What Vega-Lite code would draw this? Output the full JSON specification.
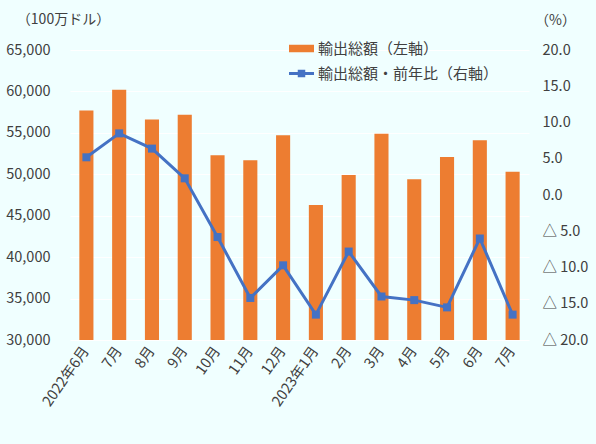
{
  "$schema": "https://vega.github.io/schema/vega-lite/v6.json",
  "width": 459,
  "height": 290,
  "autosize": {"type": "none"},
  "padding": {"left": 70, "top": 50, "right": 67, "bottom": 104},
  "background": "#F0FFFF",
  "config": {
    "font": "Noto Sans CJK JP",
    "view": {"stroke": null},
    "axis": {
      "labelFontSize": 14.5,
      "labelColor": "#404040",
      "titleColor": "#404040",
      "titleFontSize": 14,
      "titleFontWeight": "normal",
      "domain": false,
      "ticks": false
    }
  },
  "data": {
    "values": [
      {"month": "2022年6月", "exports": 57700, "yoy": 5.2},
      {"month": "2022年7月", "exports": 60200, "yoy": 8.5},
      {"month": "2022年8月", "exports": 56600, "yoy": 6.4},
      {"month": "2022年9月", "exports": 57200, "yoy": 2.3},
      {"month": "2022年10月", "exports": 52300, "yoy": -5.8},
      {"month": "2022年11月", "exports": 51700, "yoy": -14.2},
      {"month": "2022年12月", "exports": 54700, "yoy": -9.7},
      {"month": "2023年1月", "exports": 46300, "yoy": -16.5},
      {"month": "2023年2月", "exports": 49900, "yoy": -7.8},
      {"month": "2023年3月", "exports": 54900, "yoy": -14.0},
      {"month": "2023年4月", "exports": 49400, "yoy": -14.5},
      {"month": "2023年5月", "exports": 52100, "yoy": -15.5},
      {"month": "2023年6月", "exports": 54100, "yoy": -6.0},
      {"month": "2023年7月", "exports": 50300, "yoy": -16.5}
    ]
  },
  "encoding": {
    "x": {
      "field": "month",
      "type": "ordinal",
      "sort": null,
      "scale": {"paddingInner": 0.57, "paddingOuter": 0.285},
      "axis": {
        "title": null,
        "labelAngle": -55,
        "labelPadding": 8,
        "labelExpr": "datum.value == '2022年6月' || datum.value == '2023年1月' ? datum.value : substring(datum.value, 5)"
      }
    }
  },
  "layer": [
    {
      "mark": {"type": "bar", "clip": true},
      "encoding": {
        "y": {
          "field": "exports",
          "type": "quantitative",
          "scale": {"domain": [30000, 65000], "nice": false, "zero": false},
          "axis": {
            "values": [30000, 35000, 40000, 45000, 50000, 55000, 60000, 65000],
            "format": ",d",
            "labelPadding": 20,
            "grid": true,
            "gridColor": "#FFFFFF",
            "gridWidth": 1,
            "title": "（100万ドル）",
            "titleAngle": 0,
            "titleAlign": "center",
            "titleBaseline": "middle",
            "titleX": -7,
            "titleY": -31
          }
        },
        "y2": {"datum": 30000},
        "color": {
          "datum": "輸出総額（左軸）",
          "scale": {
            "domain": ["輸出総額（左軸）", "輸出総額・前年比（右軸）"],
            "range": ["#ED7D31", "#4472C4"]
          },
          "legend": {
            "title": null,
            "orient": "none",
            "legendX": 219,
            "legendY": -14,
            "labelFontSize": 15,
            "labelColor": "#404040",
            "labelOffset": 4,
            "labelLimit": 300,
            "symbolSize": 625,
            "rowPadding": 4,
            "encode": {
              "symbols": {
                "update": {
                  "shape": {"signal": "datum.value === '輸出総額（左軸）' ? 'M-1,-0.3H1V0.3H-1Z' : 'M-1,-0.12H1V0.12H-1Z M-0.3,-0.3H0.3V0.3H-0.3Z'"},
                  "fill": {"signal": "datum.value === '輸出総額（左軸）' ? '#ED7D31' : '#4472C4'"},
                  "fillOpacity": {"value": 1},
                  "opacity": {"value": 1},
                  "strokeWidth": {"value": 0}
                }
              }
            }
          }
        }
      }
    },
    {
      "mark": {
        "type": "line",
        "strokeWidth": 3,
        "point": {"shape": "square", "size": 64, "filled": true}
      },
      "encoding": {
        "y": {
          "field": "yoy",
          "type": "quantitative",
          "scale": {"domain": [-20, 20], "nice": false},
          "axis": {
            "orient": "right",
            "values": [-20, -15, -10, -5, 0, 5, 10, 15, 20],
            "labelExpr": "datum.value < 0 ? '△ ' + format(-datum.value, '.1f') : format(datum.value, '.1f')",
            "labelAlign": "left",
            "labelPadding": 13,
            "grid": false,
            "title": "（%）",
            "titleAngle": 0,
            "titleAlign": "center",
            "titleBaseline": "middle",
            "titleX": 26,
            "titleY": -30
          }
        },
        "color": {"datum": "輸出総額・前年比（右軸）"}
      }
    }
  ],
  "resolve": {"scale": {"y": "independent"}}
}
